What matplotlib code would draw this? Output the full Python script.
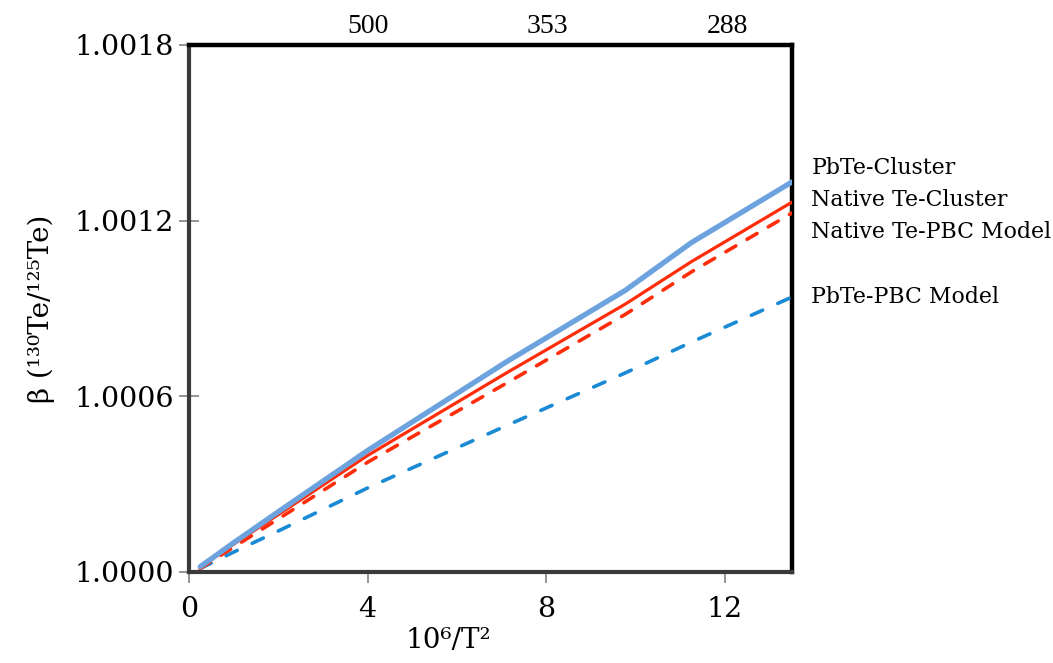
import numpy as np
import matplotlib.pyplot as plt

# 10^6/T^2 at the computed temperatures
x_vals = [0.25, 1.0, 2.04, 4.0, 7.11, 9.77, 11.25, 13.5]

pbte_cluster = [1.000018, 1.000100, 1.000210, 1.000415, 1.000718, 1.000962, 1.001125, 1.001332]
native_cluster = [1.000015, 1.000095, 1.000200, 1.000398, 1.000680, 1.000915, 1.001060, 1.001263]
native_pbc = [1.000012, 1.000085, 1.000185, 1.000375, 1.000645, 1.000880, 1.001025, 1.001226]
pbte_pbc = [1.000012, 1.000068, 1.000143, 1.000287, 1.000500, 1.000680, 1.000785, 1.000939]

x_ticks = [0, 4, 8, 12]
y_ticks = [1.0000, 1.0006, 1.0012, 1.0018]
top_temps = [500, 353, 288]

plt.rcParams['font.family'] = ['DejaVu Serif']

fig = plt.figure(figsize=(10.53, 6.63), dpi=100)
ax = fig.add_axes([0.1795, 0.1373, 0.5726, 0.7949])

ax.plot(x_vals, pbte_pbc, color='#1a8ad4', lw=2.6, dashes=(3.4, 4.6),
        dash_capstyle='round', zorder=3)
ax.plot(x_vals, native_pbc, color='#ff2d0a', lw=2.6, dashes=(3.2, 3.6),
        dash_capstyle='round', zorder=4)
ax.plot(x_vals, native_cluster, color='#ff2d0a', lw=2.3, solid_capstyle='round', zorder=5)
ax.plot(x_vals, pbte_cluster, color='#6ca3de', lw=3.8, solid_capstyle='round', zorder=6)

ax.set_xlim(0, 13.5)
ax.set_ylim(1.0000, 1.0018)
ax.set_xticks(x_ticks)
ax.set_yticks(y_ticks)
ax.set_yticklabels(['%.4f' % v for v in y_ticks])
ax.tick_params(axis='y', direction='inout', length=14, width=1.3, color='#8c8c8c',
               labelsize=20.5, pad=4)
ax.tick_params(axis='x', direction='out', length=8, width=1.3, color='#8c8c8c',
               labelsize=20.5, pad=9)

for side in ['top', 'right']:
    ax.spines[side].set_linewidth(3.2)
    ax.spines[side].set_color('black')
for side in ['left', 'bottom']:
    ax.spines[side].set_linewidth(3.0)
    ax.spines[side].set_color('#3a3a3a')

ax.set_xlabel('10⁶/T²', fontsize=20, labelpad=0)
ax.xaxis.set_label_coords(0.43, -0.105)
ax.set_ylabel('β (¹³⁰Te/¹²⁵Te)', fontsize=20, labelpad=14)

# temperature scale along the top
ax2 = ax.twiny()
ax2.set_xlim(ax.get_xlim())
ax2.set_xticks([1e6 / t ** 2 for t in top_temps])
ax2.set_xticklabels([str(t) for t in top_temps], family='Liberation Serif', fontsize=20)
ax2.tick_params(axis='x', length=0, pad=4)
for s in ax2.spines.values():
    s.set_visible(False)

labels = [('PbTe-Cluster', pbte_cluster, 10),
          ('Native Te-Cluster', native_cluster, 1.5),
          ('Native Te-PBC Model', native_pbc, -13.5),
          ('PbTe-PBC Model', pbte_pbc, 0)]
for name, series, dy in labels:
    ax.annotate(name, xy=(x_vals[-1], series[-1]), xytext=(14, dy),
                textcoords='offset points', fontsize=15.8, va='center', ha='left',
                annotation_clip=False)

fig.savefig('out.png', dpi=100)
